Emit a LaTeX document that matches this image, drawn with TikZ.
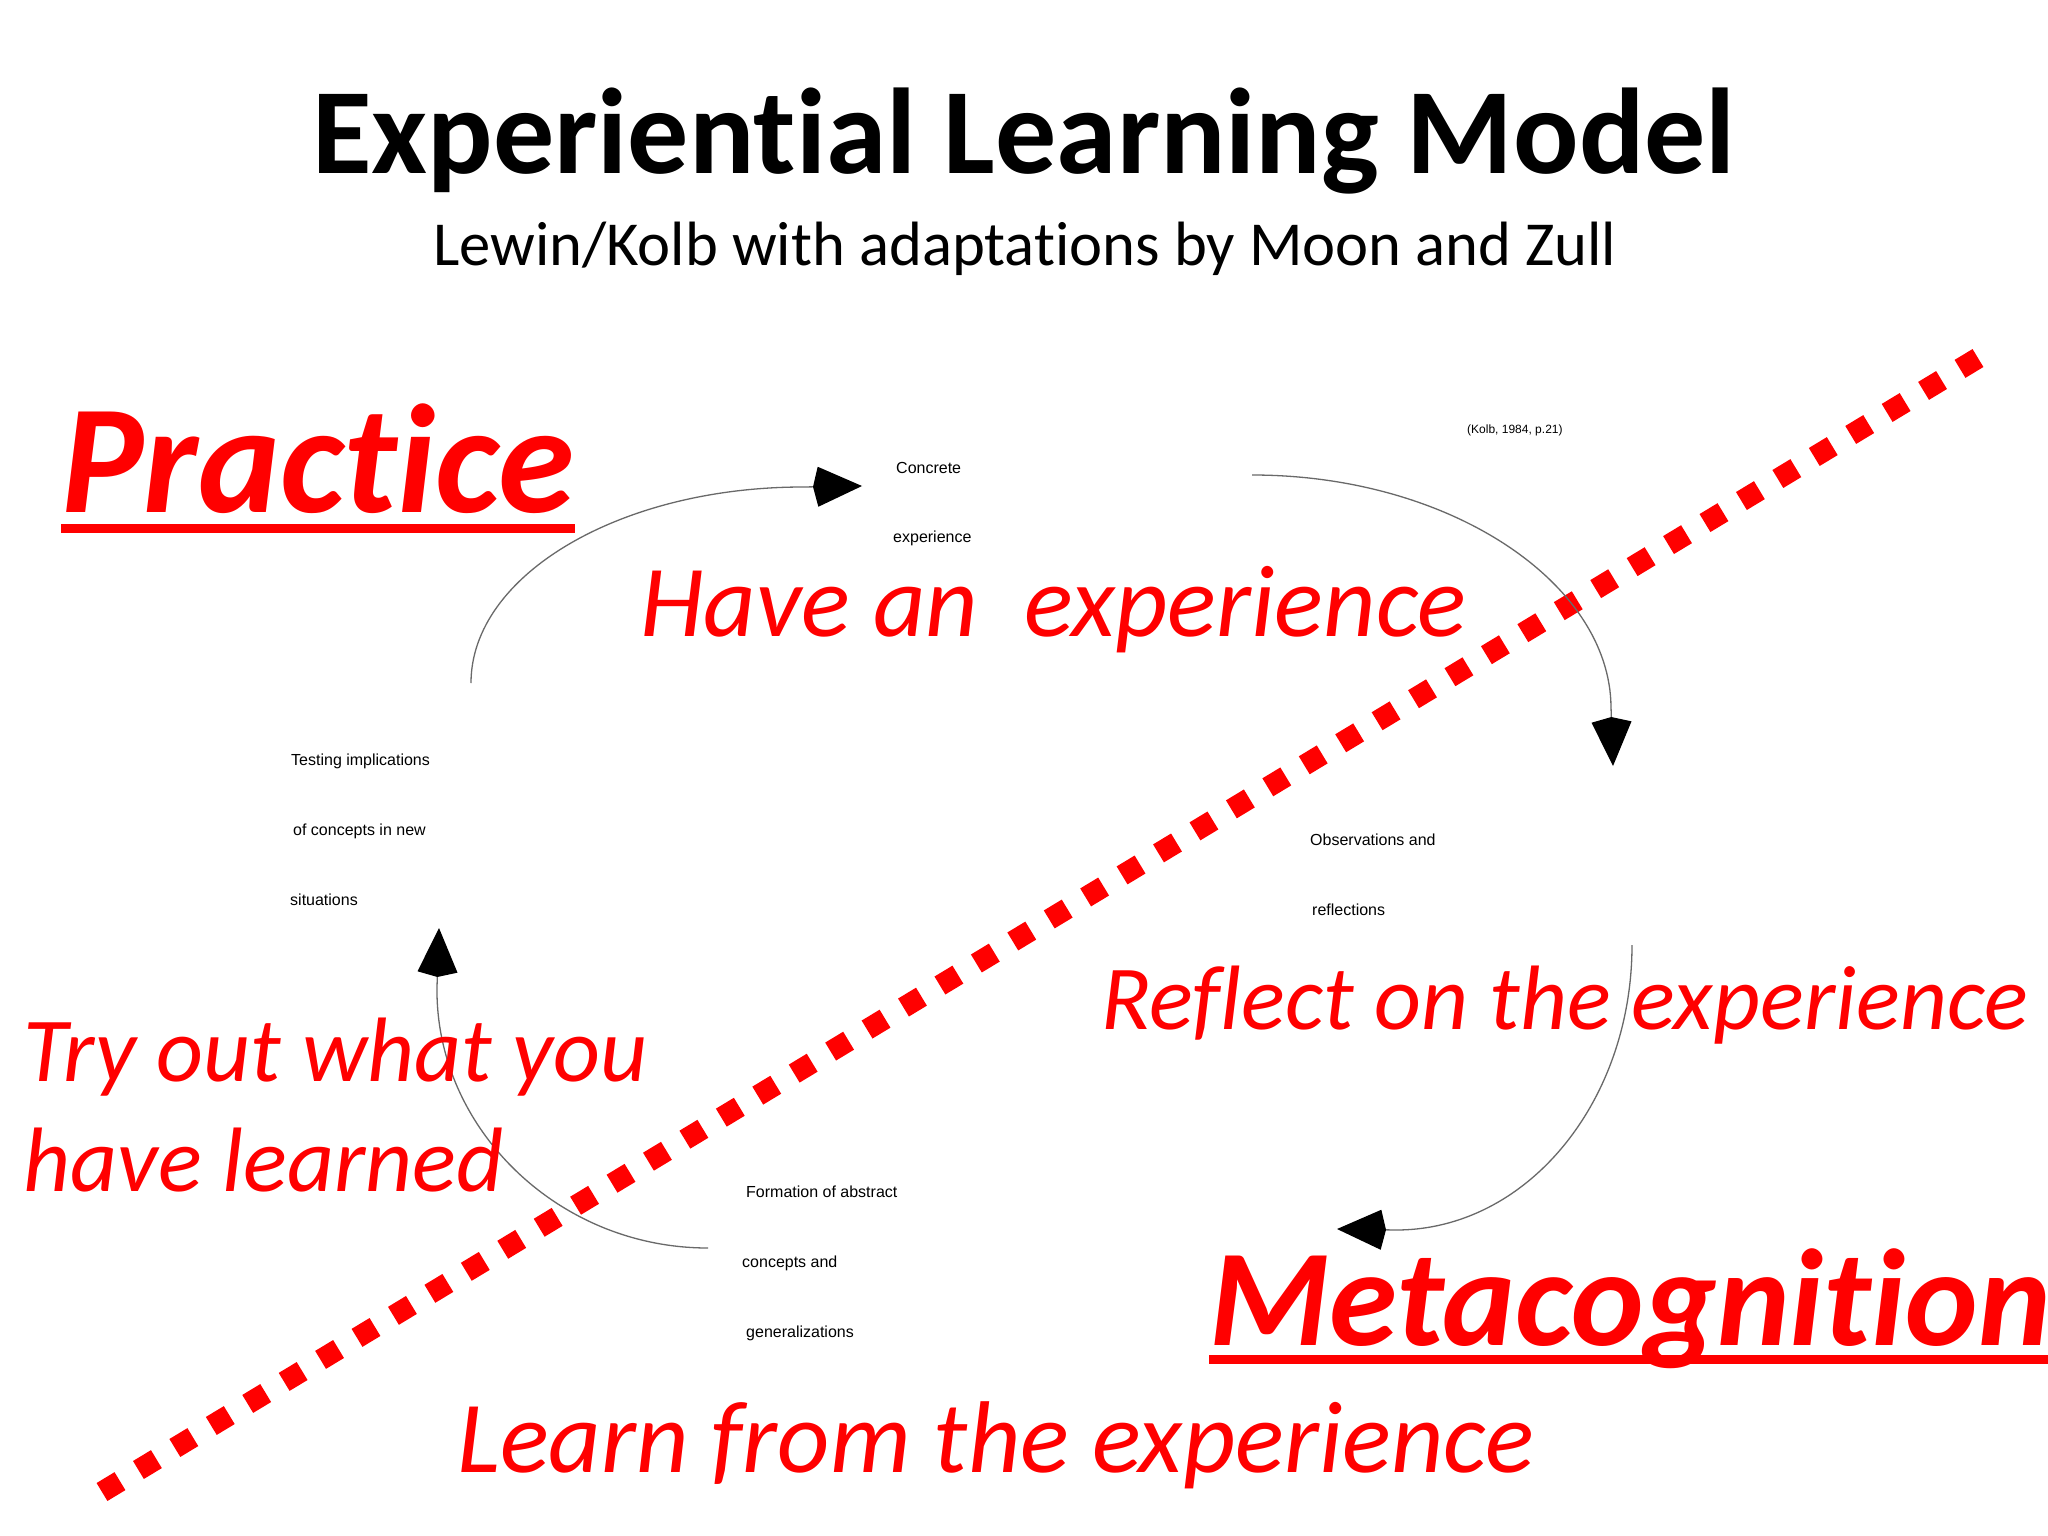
\documentclass[tikz,border=0pt]{standalone}
\usepackage{fontspec}
\setmainfont[Ligatures={NoCommon}]{Carlito}
\newfontfamily\arialfont{Liberation Sans}
\usetikzlibrary{arrows.meta}
\definecolor{pptred}{RGB}{255,0,0}
\definecolor{arcgray}{RGB}{105,105,105}
\begin{document}
\begin{tikzpicture}[x=1pt,y=-1pt,
  redit/.style={text=pptred, inner sep=0pt, anchor=base west, font=\fontsize{91.5}{100}\selectfont\itshape},
  redlarge/.style={text=pptred, inner sep=0pt, anchor=base west, font=\fontsize{102}{110}\selectfont\itshape},
  redbig/.style={text=pptred, inner sep=0pt, anchor=base west, font=\fontsize{155}{160}\selectfont\bfseries\itshape},
  uline/.style={draw=pptred, line width=9pt},
  lbl/.style={inner sep=0pt, anchor=base west, font=\arialfont\fontsize{16}{18}\selectfont},
  cyc/.style={draw=arcgray, line width=1.3pt, -{Kite[length=49pt,width=40pt,inset=5pt,color=black]}},
  dots/.style={draw=pptred, line width=21pt, dash pattern=on 21pt off 21.57pt}
]
\useasboundingbox (0,0) rectangle (2048,1536);
\fill[white] (0,0) rectangle (2048,1536);

% titles
\node[anchor=base, inner sep=0pt, font=\bfseries\fontsize{122}{130}\selectfont] (title) at (1024,173) {Experiential Learning Model};
\node[anchor=base, inner sep=0pt, font=\fontsize{62.6}{70}\selectfont] (subtitle) at (1025,265) {Lewin/Kolb with adaptations by Moon and Zull};

% dotted divider
\coordinate (d1) at (102,1492);
\coordinate (d2) at (1978,358);
\draw[dots] (d1) -- (d2);

% cycle labels
\node[lbl, font=\arialfont\fontsize{12}{14}\selectfont] (kolb) at (1467,433) {(Kolb, 1984, p.21)};
\node[lbl] (ce1) at (896,473) {Concrete};
\node[lbl] (ce2) at (893,542) {experience};
\node[lbl] (ob1) at (1310,845) {Observations and};
\node[lbl] (ob2) at (1312,915) {reflections};
\node[lbl] (fo1) at (746,1197) {Formation of abstract};
\node[lbl] (fo2) at (742,1267) {concepts and};
\node[lbl] (fo3) at (746,1337) {generalizations};
\node[lbl] (te1) at (291,765) {Testing implications};
\node[lbl] (te2) at (293,835) {of concepts in new};
\node[lbl] (te3) at (290,905) {situations};

% cycle arrows
\coordinate (a1s) at (471,683);
\coordinate (a1e) at (862,486);
\coordinate (a2s) at (1252,475);
\coordinate (a2e) at (1613,766);
\coordinate (a3s) at (1632,945);
\coordinate (a3e) at (1337,1229);
\coordinate (a4s) at (708,1248);
\coordinate (a4e) at (439,928);
\draw[cyc] (a1s) .. controls (471,575) and (620,487) .. (803,487) -- (a1e);
\draw[cyc] (a2s) .. controls (1450,475) and (1610,583) .. (1611,707) -- (a2e);
\draw[cyc] (a3s) .. controls (1632,1102) and (1527,1230) .. (1396,1230) -- (a3e);
\draw[cyc] (a4s) .. controls (557,1248) and (435,1127) .. (437,987) -- (a4e);

% red texts
\node[redbig] (practice) at (61,512) {Practice};
\draw[uline] ([yshift=-16pt]practice.base west) -- ([yshift=-16pt]practice.base east);
\node[redbig, font=\fontsize{138}{150}\selectfont\bfseries\itshape] (meta) at (1209,1345) {Metacognition};
\draw[uline] ([yshift=-14pt]meta.base west) -- ([yshift=-14pt]meta.base east);
\node[redlarge] (have) at (640,636) {Have an\ \ experience};
\node[redit] (reflect) at (1101,1029) {Reflect on the experience};
\node[redit] (try1) at (23,1081) {Try out what you};
\node[redit] (try2) at (23,1191) {have learned};
\node[redlarge] (learn) at (457,1472) {Learn from the experience};
\end{tikzpicture}
\end{document}
